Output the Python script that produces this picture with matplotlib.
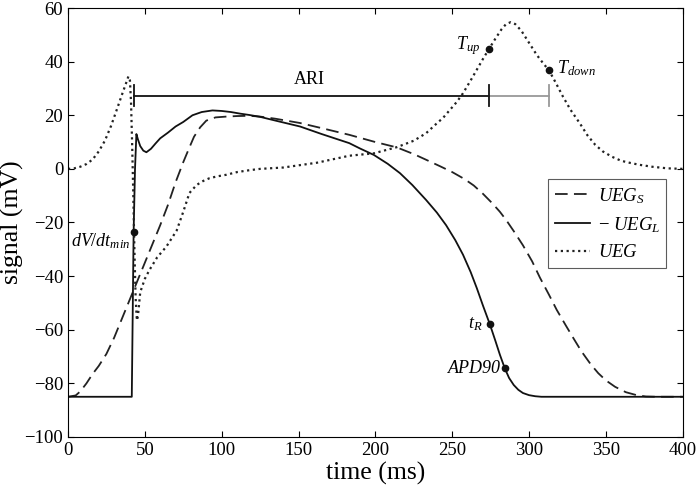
import matplotlib
matplotlib.use("Agg")
import matplotlib.pyplot as plt

plt.rcParams['font.family'] = ['Liberation Serif', 'DejaVu Serif']
plt.rcParams['mathtext.fontset'] = 'custom'
plt.rcParams['mathtext.it'] = 'Liberation Serif:italic'
plt.rcParams['mathtext.rm'] = 'Liberation Serif'

# -UEG_L (solid)
t_long = [0, 41.5, 42.7, 43.6, 44.5, 45.5, 47, 49, 51, 54, 57, 60, 65, 70, 75, 81,
          87, 94, 100, 106, 112, 118, 125, 135, 151, 165, 183, 190, 199, 208, 216,
          224, 233, 240, 246, 252, 257, 262, 266, 270, 274.5, 278, 281, 284.2, 287,
          290, 293, 296, 300, 304, 308, 313, 400]
v_long = [-85, -85, -23.5, 0, 13, 11, 8.5, 6.8, 6.2, 7.5, 9.5, 11.4, 13.5, 15.8,
          17.5, 20, 21.2, 21.8, 21.6, 21.2, 20.6, 20.1, 19.4, 18, 15.8, 13, 9.6,
          7.6, 5.2, 1.9, -1.6, -6, -11.6, -16.3, -21, -26.6, -32, -38.5, -44.5,
          -51, -58, -64, -69.3, -74.4, -78, -80.6, -82.4, -83.6, -84.4, -84.8, -85,
          -85, -85]

# UEG_S (dashed)
t_short = [0, 5, 8, 12, 16, 20, 25, 30, 35, 40, 45, 50, 55, 60, 65, 70, 75, 79, 82,
           86, 90, 96, 103, 110, 118, 125, 135, 151, 165, 183, 200, 214, 225, 233,
           242, 250, 258, 264, 270, 276, 281, 285, 290, 296, 302, 307, 313, 318,
           324, 329, 334, 340, 345, 350, 356, 363, 370, 376, 383, 400]
v_short = [-85, -84.5, -83, -80, -76.5, -73.5, -69, -63, -56, -49, -42, -35, -28,
           -21, -13.5, -5, 2.5, 8, 12, 15.5, 18, 19.2, 19.5, 19.7, 19.8, 19.5, 18.7,
           17.1, 15.2, 12.7, 10, 8, 5.5, 3.4, 1, -1.2, -3.8, -6.2, -9.3, -12.8,
           -16, -19, -23.2, -28.5, -34.5, -40.5, -47, -52.6, -58.5, -63.3, -68,
           -72.8, -76.2, -78.9, -81.3, -83.3, -84.4, -84.9, -85, -85]

# UEG (dotted)
t_ueg = [0, 4, 8, 12, 16, 20, 24, 28, 32, 35, 37.5, 39.3, 40.3, 41, 41.7, 42.5,
         43.2, 44, 44.8, 45.5, 47, 50, 53, 58, 64, 70.7, 75, 79, 83.7, 88, 92, 97,
         103, 110, 118, 125, 140, 162, 183, 199, 214, 225, 233, 240, 244, 248.5,
         253, 257, 262, 266, 270, 274, 278, 282, 285, 288, 291, 295, 300, 305, 309,
         313, 317, 322, 327, 333, 338, 343, 348, 354, 360, 366, 372, 380, 390, 400]
v_ueg = [0, 0.2, 0.8, 1.8, 3.5, 6.5, 10.5, 16, 22.5, 27.5, 31.5, 34.5, 33, 25, 10,
         -10, -30, -48, -56.5, -55, -46, -41, -37.7, -33, -29, -23, -16, -9, -6,
         -4.5, -3.5, -2.8, -2.2, -1.2, -0.5, 0, 0.5, 2.3, 4.9, 5.8, 8.1, 10.5, 13.3,
         17, 19, 22, 25, 28.2, 33, 37, 41, 44.8, 48.5, 52, 54, 54.7, 54, 51.5, 47,
         42.5, 39.5, 36.7, 32.5, 27, 22, 17, 12.5, 9, 6.5, 4.5, 3, 2.2, 1.5, 0.8,
         0.2, 0]

# marked points
pt_t = [42.7, 274.5, 284.2]
pt_v = [-23.5, -58, -74.4]
t_up, v_up = 273.8, 44.8
t_down, v_down = 313, 36.7
ari_y = 27.2

fig = plt.figure(figsize=(6.96, 4.94), dpi=100)
ax = fig.add_axes([0.0977, 0.1154, 0.8833, 0.8684])

ax.plot(t_short, v_short, color='#222222', lw=1.3, linestyle=(0, (7, 3.5)), label=r'$UEG_S$')
ax.plot(t_long, v_long, color='#111111', lw=1.3, label=r'$-\ UEG_L$')
ax.plot(t_ueg, v_ueg, color='#222222', lw=1.6, linestyle=(0, (1, 1.6)), label=r'$UEG$')

ax.plot(pt_t, pt_v, 'o', color='#111111', ms=4.5)
ax.plot([t_up, t_down], [v_up, v_down], 'o', color='#111111', ms=4.5)

# ARI bar
ax.plot([pt_t[0], t_up], [ari_y, ari_y], color='#111111', lw=1.3)
ax.plot([t_up, t_down], [ari_y, ari_y], color='#999999', lw=1.3)
ax.plot([pt_t[0], pt_t[0]], [ari_y - 3.9, ari_y + 3.9], color='#111111', lw=1.3)
ax.plot([t_up, t_up], [ari_y - 3.9, ari_y + 3.9], color='#111111', lw=1.3)
ax.plot([t_down, t_down], [ari_y - 3.9, ari_y + 3.9], color='#999999', lw=1.3)
ax.text(157, 33.5, 'ARI', ha='center', va='center', fontsize=13)

ax.text(40.5, -27, r'$dV/dt_{min}$', ha='right', va='center', fontsize=13)
ax.text(268, 46, r'$T_{up}$', ha='right', va='center', fontsize=13)
ax.text(318, 37.5, r'$T_{down}$', ha='left', va='center', fontsize=13)
ax.text(270, -58, r'$t_R$', ha='right', va='center', fontsize=13)
ax.text(281.5, -74.5, 'APD90', ha='right', va='center', fontsize=13, style='italic')

ax.set_xlim(0, 400)
ax.set_ylim(-100, 60)
ax.set_xticks(range(0, 401, 50))
ax.set_yticks(range(-100, 61, 20))
ax.tick_params(direction='in', top=True, right=True, length=4, width=0.8, labelsize=13.5)
for s in ax.spines.values():
    s.set_linewidth(0.8)

ax.set_xlabel('time (ms)', fontsize=18.5, labelpad=2)
ax.set_ylabel('signal (mV)', fontsize=18.5, labelpad=0)

leg = ax.legend(loc='upper right', bbox_to_anchor=(0.9735, 0.6007), borderaxespad=0,
                fontsize=13.5, fancybox=False, edgecolor='#333333', handlelength=1.9,
                labelspacing=0.5, borderpad=0.35, handletextpad=0.4)
leg.get_frame().set_linewidth(0.8)

fig.savefig('out.png', dpi=100)
